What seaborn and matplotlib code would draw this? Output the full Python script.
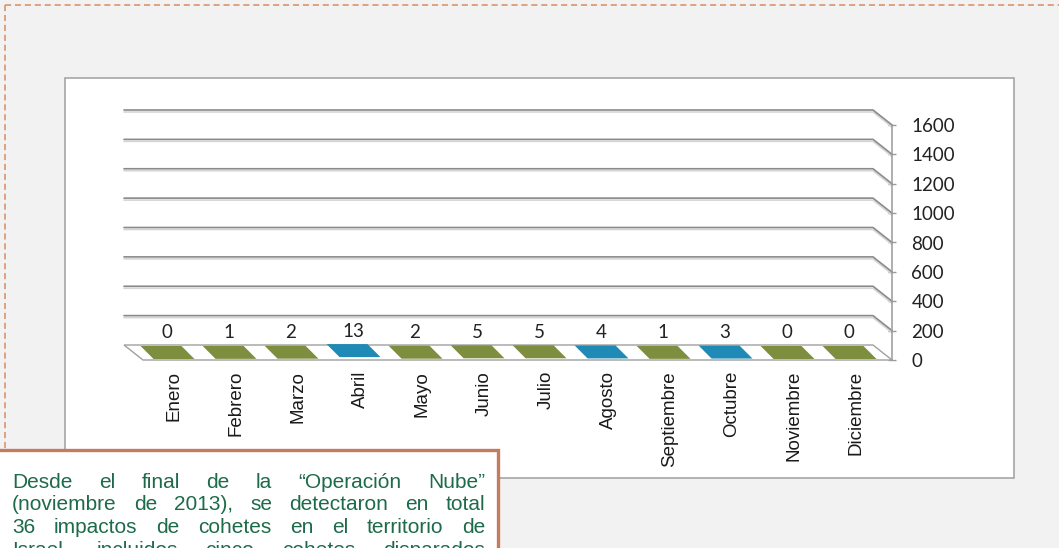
import numpy as np
import pandas as pd
import matplotlib
matplotlib.use("Agg")
import matplotlib.pyplot as plt
import seaborn as sns
from matplotlib.patches import Rectangle, Polygon
from matplotlib.lines import Line2D
from matplotlib.transforms import IdentityTransform

# datos
meses = ["Enero", "Febrero", "Marzo", "Abril", "Mayo", "Junio",
         "Julio", "Agosto", "Septiembre", "Octubre", "Noviembre", "Diciembre"]
impactos = [0, 1, 2, 13, 2, 5, 5, 4, 1, 3, 0, 0]
destacados = ["Abril", "Agosto", "Octubre"]
ticks_y = [0, 200, 400, 600, 800, 1000, 1200, 1400, 1600]

lineas = ["Desde el final de la \u201cOperación Nube\u201d",
          "(noviembre de 2013), se detectaron en total",
          "36 impactos de cohetes en el territorio de",
          "Israel, incluidos cinco cohetes disparados"]

VERDE = "#7e8e3f"
AZUL = "#1f8ab5"
colores = [AZUL if m in destacados else VERDE for m in meses]

W, H = 1059, 548
sns.set_style("white")
plt.rcParams["font.family"] = ["Liberation Sans", "DejaVu Sans"]

fig = plt.figure(figsize=(W / 100, H / 100), dpi=100, facecolor="#f2f2f2")

# marco punteado
borde = "#d98c60"
fig.add_artist(Line2D([5 / W, 1], [(H - 5) / H] * 2, transform=fig.transFigure,
                      color=borde, lw=1.1, ls=(0, (4, 2.5)), zorder=0))
fig.add_artist(Line2D([5 / W] * 2, [(H - 5) / H, (H - 450) / H], transform=fig.transFigure,
                      color=borde, lw=1.1, ls=(0, (4, 2.5)), zorder=0))

# caja del grafico
fig.add_artist(Rectangle((65 / W, (H - 478) / H), (1014 - 65) / W, 400 / H,
                         transform=fig.transFigure, facecolor="white",
                         edgecolor="#a6a6a6", lw=1.2, zorder=0))

ax = fig.add_axes([143 / W, (H - 360) / H, (892 - 143) / W, 235 / H])
ax.set_facecolor("none")
ax.set_zorder(1)

df = pd.DataFrame({"mes": meses, "impactos": impactos})
sns.barplot(data=df, x="mes", y="impactos", hue="mes", palette=colores,
            legend=False, width=0.66, saturation=1, linewidth=0, ax=ax)
barras = list(ax.patches)

ax.set_xlim(-0.5, 11.58)
ax.set_ylim(0, 1600)
ax.set_xlabel("")
ax.set_ylabel("")
for s in ["left", "top", "bottom"]:
    ax.spines[s].set_visible(False)
ax.spines["right"].set_color("#9a9a9a")
ax.spines["right"].set_linewidth(1.1)

ax.yaxis.tick_right()
ax.set_yticks(ticks_y)
ax.set_yticklabels([str(t) for t in ticks_y], family="Lato", fontsize=13.5, color="#222222")
ax.tick_params(axis="y", direction="inout", length=6, width=1, color="#9a9a9a", pad=11)

ax.set_xticks(range(len(meses)))
ax.set_xticklabels(meses, rotation=90, fontsize=13.5, color="#1a1a1a")
ax.set_xticks(np.arange(-0.5, len(meses), 1), minor=True)
ax.tick_params(axis="x", which="major", length=0, pad=8)
ax.tick_params(axis="x", which="minor", length=4, width=1, color="#b0b0b0", direction="out")


def disp(x, y):
    return ax.transData.transform((x, y))


DX, DY = -19, 15
xl, y0 = disp(-0.5, 0)
xr, _ = disp(ax.get_xlim()[1], 0)

# paredes / lineas de division
for v in ticks_y[1:]:
    _, yv = disp(0, v)
    xs = [xl + DX, xr + DX, xr]
    ys = [yv + DY, yv + DY, yv]
    ax.add_artist(Line2D(xs, [y - 2 for y in ys], transform=IdentityTransform(),
                         color="#d6d6d6", lw=1.2, clip_on=False, zorder=1))
    ax.add_artist(Line2D(xs, ys, transform=IdentityTransform(),
                         color="#8a8a8a", lw=1.2, clip_on=False, zorder=2))

# suelo
ax.add_artist(Polygon([(xl, y0), (xr, y0), (xr + DX, y0 + DY), (xl + DX, y0 + DY)],
                      closed=True, transform=IdentityTransform(), facecolor="white",
                      edgecolor="#a0a0a0", lw=1, clip_on=False, zorder=3))

# cara superior de cada barra
for p in barras:
    x, w, h = p.get_x(), p.get_width(), p.get_height()
    fl = disp(x, h)
    fr = disp(x + w, h)
    cara = [(fl[0], fl[1] + 1), (fr[0], fr[1] + 1), (fr[0] - 13, fr[1] + 14), (fl[0] - 13, fl[1] + 14)]
    ax.add_artist(Polygon(cara, closed=True, transform=IdentityTransform(),
                          facecolor=p.get_facecolor(), edgecolor="none",
                          clip_on=False, zorder=4))

for p, v in zip(barras, impactos):
    ax.annotate(str(v), xy=(p.get_x() + p.get_width() / 2, p.get_height()),
                xytext=(-7, 27), textcoords="offset pixels", ha="center", va="center",
                family="Lato", fontsize=13.5, color="#222222", zorder=5)

# cuadro de texto
fig.add_artist(Rectangle((-5 / W, -10 / H), (498 + 5) / W, (H - 450 + 10) / H,
                         transform=fig.transFigure, facecolor="white",
                         edgecolor="#c47c5c", lw=2.4, zorder=10))

renderer = fig.canvas.get_renderer()
for i, linea in enumerate(lineas):
    palabras = linea.split()
    yb = H - (488 + 22.5 * i)
    objs = [fig.text(0, yb / H, p, fontsize=15, color="#1d6b4a", va="baseline", zorder=11)
            for p in palabras]
    anchos = [t.get_window_extent(renderer).width for t in objs]
    hueco = (485 - 12 - sum(anchos)) / (len(palabras) - 1)
    x = 12
    for t, a in zip(objs, anchos):
        t.set_x(x / W)
        x += a + hueco

fig.savefig("out.png", dpi=100, facecolor=fig.get_facecolor())
